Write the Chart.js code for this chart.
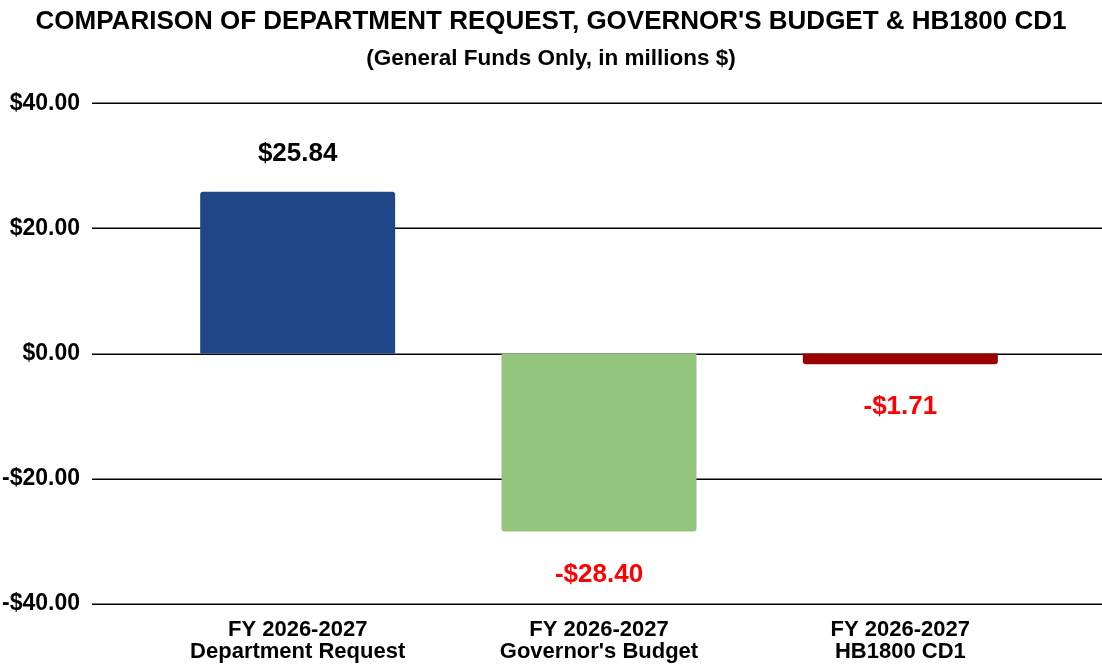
<!DOCTYPE html>
<html lang="en">
  <head>
    <meta charset="UTF-8" />
    <title>Budget comparison</title>
    <style>
      body { margin: 0; background: #fff; }
      #wrap { width: 1102px; height: 665px; }
    </style>
  </head>
  <body>
    <div id="wrap"><canvas id="myChart"></canvas></div>

    <script src="https://cdn.jsdelivr.net/npm/chart.js"></script>

    <script>
      const categories = [
        ["FY 2026-2027", "Department Request"],
        ["FY 2026-2027", "Governor's Budget"],
        ["FY 2026-2027", "HB1800 CD1"],
      ];
      const values = [25.84, -28.4, -1.71];
      const barColors = ["#1f4788", "#93c47d", "#990000"];
      const labelColors = ["#000000", "#ff0000", "#ff0000"];
      const yTicks = [-40, -20, 0, 20, 40];

      const font = "'Liberation Sans', Arial, sans-serif";

      function money(v) {
        return (v < 0 ? "-$" : "$") + Math.abs(v).toFixed(2);
      }

      // horizontal lines across the full width, not just the chart area
      const fullGrid = {
        id: "fullGrid",
        beforeDatasetsDraw(chart) {
          const ctx = chart.ctx;
          const y = chart.scales.y;
          ctx.save();
          ctx.strokeStyle = "#000";
          ctx.lineWidth = 1.5;
          yTicks.forEach((t) => {
            const py = Math.round(y.getPixelForValue(t)) + 0.25;
            ctx.beginPath();
            ctx.moveTo(92, py);
            ctx.lineTo(chart.width, py);
            ctx.stroke();
          });
          ctx.restore();
        },
      };

      const barLabels = {
        id: "barLabels",
        afterDatasetsDraw(chart) {
          const ctx = chart.ctx;
          const meta = chart.getDatasetMeta(0);
          ctx.save();
          ctx.font = "bold 26px " + font;
          ctx.textAlign = "center";
          ctx.textBaseline = "middle";
          meta.data.forEach((bar, i) => {
            const v = values[i];
            ctx.fillStyle = labelColors[i];
            const py = v >= 0 ? bar.y - 38 : bar.y + 43;
            ctx.fillText(money(v), bar.x, py);
          });
          ctx.restore();
        },
      };

      new Chart(document.getElementById("myChart"), {
        type: "bar",
        data: {
          labels: categories,
          datasets: [
            {
              data: values,
              backgroundColor: barColors,
              borderRadius: 3,
              borderSkipped: "start",
              barPercentage: 0.647,
              categoryPercentage: 1,
            },
          ],
        },
        options: {
          responsive: true,
          maintainAspectRatio: false,
          animation: false,
          layout: { padding: 0 },
          plugins: {
            legend: { display: false },
            tooltip: { enabled: false },
            title: {
              display: true,
              text: "COMPARISON OF DEPARTMENT REQUEST, GOVERNOR'S BUDGET & HB1800 CD1",
              color: "#000",
              font: { family: font, size: 26, weight: "bold" },
              padding: { top: 6, bottom: 2 },
            },
            subtitle: {
              display: true,
              text: "(General Funds Only, in millions $)",
              color: "#000",
              font: { family: font, size: 22.5, weight: "bold" },
              padding: { top: 6, bottom: 31 },
            },
          },
          scales: {
            x: {
              afterFit(scale) {
                scale.height = 61;
              },
              grid: { display: false },
              border: { display: false },
              ticks: {
                color: "#000",
                font: { family: font, size: 22, weight: "bold", lineHeight: 1 },
                padding: 7,
                maxRotation: 0,
              },
            },
            y: {
              min: -40,
              max: 40,
              afterFit(scale) {
                scale.width = 147;
                // the big tick padding would otherwise also pad top and bottom
                scale.paddingTop = 14;
                scale.paddingBottom = 14;
              },
              afterBuildTicks(scale) {
                scale.ticks = yTicks.map((v) => ({ value: v }));
              },
              grid: { display: false, drawTicks: false },
              border: { display: false },
              ticks: {
                color: "#000",
                font: { family: font, size: 23, weight: "bold" },
                padding: 67,
                callback: (v) => money(v),
              },
            },
            // empty right axis, only reserves space so the bars sit where they should
            yRight: {
              position: "right",
              display: true,
              afterFit(scale) {
                scale.width = 51;
              },
              grid: { display: false, drawTicks: false },
              border: { display: false },
              ticks: { display: false },
            },
          },
        },
        plugins: [fullGrid, barLabels],
      });
    </script>
  </body>
</html>
